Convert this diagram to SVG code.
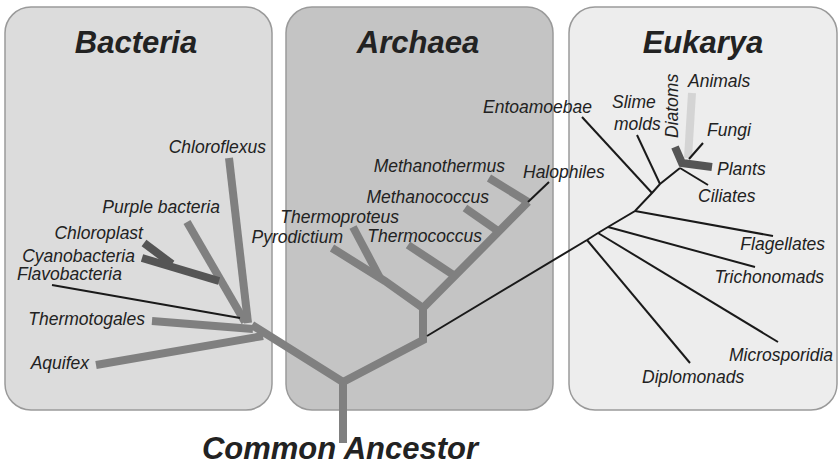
<svg xmlns="http://www.w3.org/2000/svg" width="840" height="466" viewBox="0 0 840 466">
<style>
.box{stroke:#9a9a9a;stroke-width:1.5}
.title{font-family:"Liberation Sans",Arial,sans-serif;font-weight:bold;font-style:italic;font-size:31px;fill:#222;text-anchor:middle}
.lab{font-family:"Liberation Sans",Arial,sans-serif;font-style:italic;font-size:17.5px;fill:#222}
.end{text-anchor:end}
.thick{stroke:#808080;stroke-width:8;fill:none;stroke-linejoin:miter}
.dark{stroke:#555;stroke-width:8;fill:none}
.light{stroke:#d4d4d4;stroke-width:8;fill:none}
.thin{stroke:#1a1a1a;stroke-width:2;fill:none}
</style>
<rect width="840" height="466" fill="#fff"/>
<g id="bacteria">
<rect class="box" x="5" y="7" width="267" height="403" rx="26" fill="#dcdcdc"/>
<text class="title" x="136" y="53">Bacteria</text>
</g>
<g id="archaea">
<rect class="box" x="286" y="7" width="267" height="403" rx="26" fill="#c4c4c4"/>
<text class="title" x="418" y="53">Archaea</text>
</g>
<g id="eukarya">
<rect class="box" x="569" y="7" width="268" height="403" rx="26" fill="#ededed"/>
<text class="title" x="703" y="53">Eukarya</text>
</g>
<g id="connectors">
<polyline class="thick" points="343,443 343,382 252,325"/>
<polyline class="thick" points="343,382 423,340 423,308 528,202"/>
<line class="thick" x1="229" y1="158" x2="248" y2="323"/>
<line class="thick" x1="187" y1="222" x2="245" y2="322"/>
<line class="dark" x1="142" y1="258" x2="219" y2="281"/>
<line class="dark" x1="144" y1="243" x2="172" y2="264"/>
<line class="thin" x1="52" y1="285" x2="240" y2="318"/>
<line class="thick" x1="152" y1="321" x2="253" y2="329"/>
<line class="thick" x1="96" y1="365" x2="263" y2="336"/>
<polyline class="thick" points="332,248 385,281 423,308"/>
<line class="thick" x1="353" y1="227" x2="380" y2="278"/>
<line class="thick" x1="408" y1="245" x2="455" y2="276"/>
<line class="thick" x1="465" y1="208" x2="498" y2="231"/>
<line class="thick" x1="489" y1="178" x2="528" y2="202"/>
<line class="thin" x1="528" y1="202" x2="549" y2="182"/>
<polyline class="thin" points="427,336 587,240 598,233 608,227 635,211 652,193 660,184 680,168"/>
<line class="thin" x1="587" y1="240" x2="690" y2="363"/>
<line class="thin" x1="598" y1="233" x2="778" y2="342"/>
<line class="thin" x1="608" y1="227" x2="755" y2="267"/>
<line class="thin" x1="635" y1="211" x2="773" y2="236"/>
<line class="thin" x1="652" y1="193" x2="582" y2="117"/>
<line class="thin" x1="660" y1="184" x2="637" y2="135"/>
<line class="thin" x1="680" y1="168" x2="708" y2="185"/>
<line class="light" x1="692" y1="93" x2="688" y2="158"/>
<polyline class="dark" points="675,147 682,163 712,167"/>
<line class="thin" x1="689" y1="159" x2="703" y2="143"/>
</g>
<g id="n-chloroflexus"><text class="lab end" x="266" y="153">Chloroflexus</text></g>
<g id="n-purple"><text class="lab end" x="220" y="213">Purple bacteria</text></g>
<g id="n-chloroplast"><text class="lab end" x="143" y="239">Chloroplast</text></g>
<g id="n-cyano"><text class="lab end" x="135" y="262">Cyanobacteria</text></g>
<g id="n-flavo"><text class="lab end" x="122" y="280">Flavobacteria</text></g>
<g id="n-thermotogales"><text class="lab end" x="145" y="325">Thermotogales</text></g>
<g id="n-aquifex"><text class="lab end" x="89" y="369">Aquifex</text></g>
<g id="n-methanothermus"><text class="lab end" x="505" y="172">Methanothermus</text></g>
<g id="n-halophiles"><text class="lab" x="523" y="178">Halophiles</text></g>
<g id="n-methanococcus"><text class="lab end" x="489" y="203">Methanococcus</text></g>
<g id="n-thermoproteus"><text class="lab end" x="399" y="223">Thermoproteus</text></g>
<g id="n-pyrodictium"><text class="lab end" x="343" y="243">Pyrodictium</text></g>
<g id="n-thermococcus"><text class="lab end" x="482" y="242">Thermococcus</text></g>
<g id="n-entoamoebae"><text class="lab" x="483" y="113">Entoamoebae</text></g>
<g id="n-slimemolds"><text class="lab" x="612" y="108">Slime</text><text class="lab" x="614" y="130">molds</text></g>
<g id="n-diatoms"><text class="lab" transform="translate(678,138) rotate(-90)">Diatoms</text></g>
<g id="n-animals"><text class="lab" x="688" y="87">Animals</text></g>
<g id="n-fungi"><text class="lab" x="707" y="136">Fungi</text></g>
<g id="n-plants"><text class="lab" x="717" y="175">Plants</text></g>
<g id="n-ciliates"><text class="lab" x="698" y="202">Ciliates</text></g>
<g id="n-flagellates"><text class="lab end" x="825" y="250">Flagellates</text></g>
<g id="n-trichonomads"><text class="lab end" x="824" y="283">Trichonomads</text></g>
<g id="n-microsporidia"><text class="lab end" x="833" y="361">Microsporidia</text></g>
<g id="n-diplomonads"><text class="lab" x="642" y="383">Diplomonads</text></g>
<g id="n-ancestor"><text class="title" x="340" y="459">Common Ancestor</text></g>
</svg>
